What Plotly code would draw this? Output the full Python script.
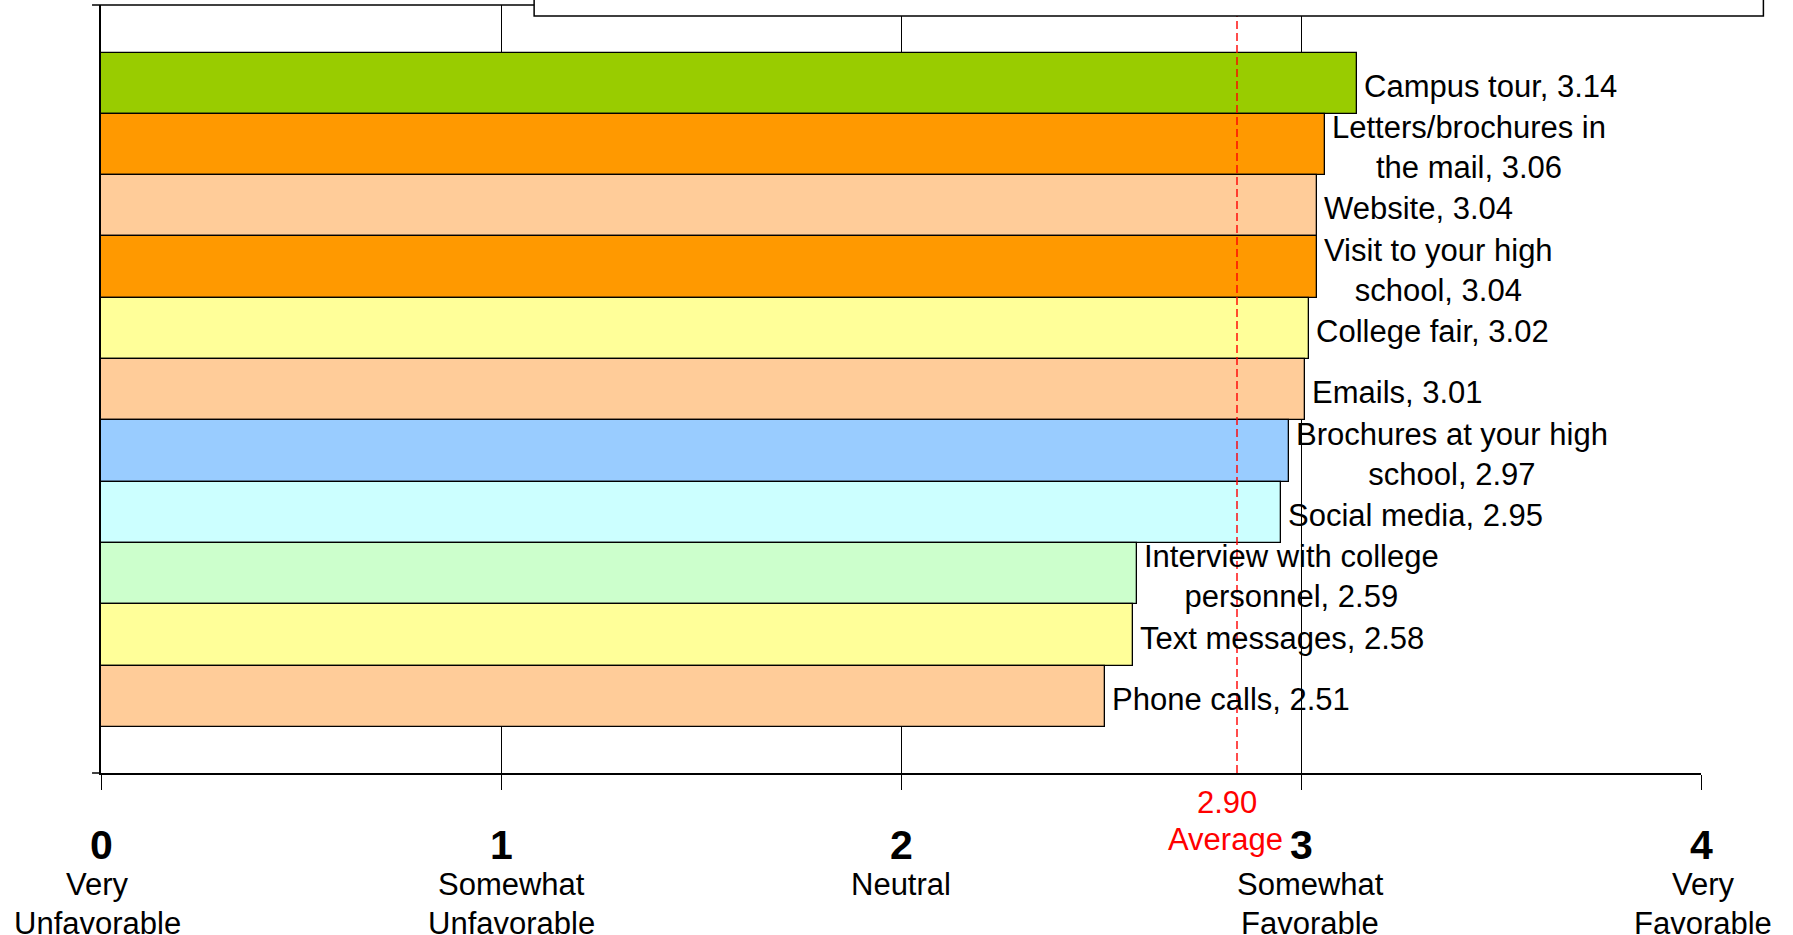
import plotly.graph_objects as go

# ---- data ----
methods = ["Campus tour", "Letters/brochures in the mail", "Website",
           "Visit to your high school", "College fair", "Emails",
           "Brochures at your high school", "Social media",
           "Interview with college personnel", "Text messages", "Phone calls"]
label_text = ["Campus tour", "Letters/brochures in<br>the mail", "Website",
              "Visit to your high<br>school", "College fair", "Emails",
              "Brochures at your high<br>school", "Social media",
              "Interview with college<br>personnel", "Text messages", "Phone calls"]
scores = [3.14, 3.06, 3.04, 3.04, 3.02, 3.01, 2.97, 2.95, 2.59, 2.58, 2.51]
bar_colors = ["#99CC00", "#FF9900", "#FFCC99", "#FF9900", "#FFFF99", "#FFCC99",
              "#99CCFF", "#CCFFFF", "#CCFFCC", "#FFFF99", "#FFCC99"]
scale_values = [0, 1, 2, 3, 4]
scale_line1 = ["Very", "Somewhat", "Neutral", "Somewhat", "Very"]
scale_line2 = ["Unfavorable", "Unfavorable", "", "Favorable", "Favorable"]
average_text = "2.90"
average_line_x = 2.84  # position of the dashed marker as drawn

FONT = "Arial, 'Liberation Sans', sans-serif"

fig = go.Figure()
fig.add_trace(go.Bar(
    x=scores, y=methods, orientation="h",
    marker=dict(color=bar_colors, line=dict(color="black", width=1.3)),
    hoverinfo="skip", showlegend=False,
))

annotations = []
for m, lt, s in zip(methods, label_text, scores):
    annotations.append(dict(
        x=s, y=m, xref="x", yref="y", xanchor="left", yanchor="middle",
        xshift=5, yshift=-3, align="center", showarrow=False,
        text=f"{lt}, {s:.2f}", font=dict(family=FONT, size=31, color="black")))

desc_shift = [-4, 10, 0, 9, 2]
for v, l1, l2, sh in zip(scale_values, scale_line1, scale_line2, desc_shift):
    annotations.append(dict(x=v, y=-0.094, xref="x", yref="paper", showarrow=False,
                            xanchor="center", yanchor="middle", text=f"<b>{v}</b>",
                            font=dict(family=FONT, size=41, color="black")))
    annotations.append(dict(x=v, y=-0.145, xref="x", yref="paper", showarrow=False,
                            xanchor="center", yanchor="middle", xshift=sh, text=l1,
                            font=dict(family=FONT, size=31, color="black")))
    if l2:
        annotations.append(dict(x=v, y=-0.196, xref="x", yref="paper", showarrow=False,
                                xanchor="center", yanchor="middle", xshift=sh, text=l2,
                                font=dict(family=FONT, size=31, color="black")))

annotations.append(dict(x=average_line_x, y=-0.0378, xref="x", yref="paper",
                        showarrow=False, xanchor="center", yanchor="middle", xshift=-10,
                        text=average_text, font=dict(family=FONT, size=31, color="red")))
annotations.append(dict(x=average_line_x, y=-0.0866, xref="x", yref="paper",
                        showarrow=False, xanchor="center", yanchor="middle", xshift=-12,
                        text="Average", font=dict(family=FONT, size=31, color="red")))

shapes = [
    # average marker
    dict(type="line", xref="x", yref="paper", x0=average_line_x, x1=average_line_x,
         y0=0, y1=1, line=dict(color="red", width=1.4, dash="8px,4px"), layer="above"),
    # top border and small left ticks
    dict(type="line", xref="paper", yref="paper", x0=-0.0056, x1=1, y0=1, y1=1,
         line=dict(color="black", width=1.5), layer="above"),
    dict(type="line", xref="paper", yref="paper", x0=-0.0056, x1=0, y0=0, y1=0,
         line=dict(color="black", width=1.5), layer="above"),
    # legend box (mostly above the visible area)
    dict(type="rect", xref="paper", yref="paper", x0=0.2707, x1=1.039, y0=0.9857, y1=1.2,
         fillcolor="white", line=dict(color="black", width=1.5), layer="above"),
]

fig.update_layout(
    width=1793, height=935,
    margin=dict(l=101, r=92, t=5, b=162),
    paper_bgcolor="white", plot_bgcolor="white",
    bargap=0,
    xaxis=dict(range=[0, 4], tickvals=scale_values, showticklabels=False,
               showgrid=True, gridcolor="black", gridwidth=1.2,
               showline=True, linecolor="black", linewidth=1.5,
               ticks="outside", ticklen=15, tickwidth=1.2, tickcolor="black",
               zeroline=False, fixedrange=True),
    yaxis=dict(categoryorder="array", categoryarray=methods,
               range=[10.5 + 0.75, -0.5 - 0.775], showticklabels=False,
               showgrid=False, zeroline=False, showline=True, linecolor="black",
               linewidth=1.5, ticks="", fixedrange=True),
    annotations=annotations,
    shapes=shapes,
    font=dict(family=FONT),
)

fig.write_html("out.html", config={"displayModeBar": False},
               post_script="document.body.style.margin='0';document.body.style.overflow='hidden';")
